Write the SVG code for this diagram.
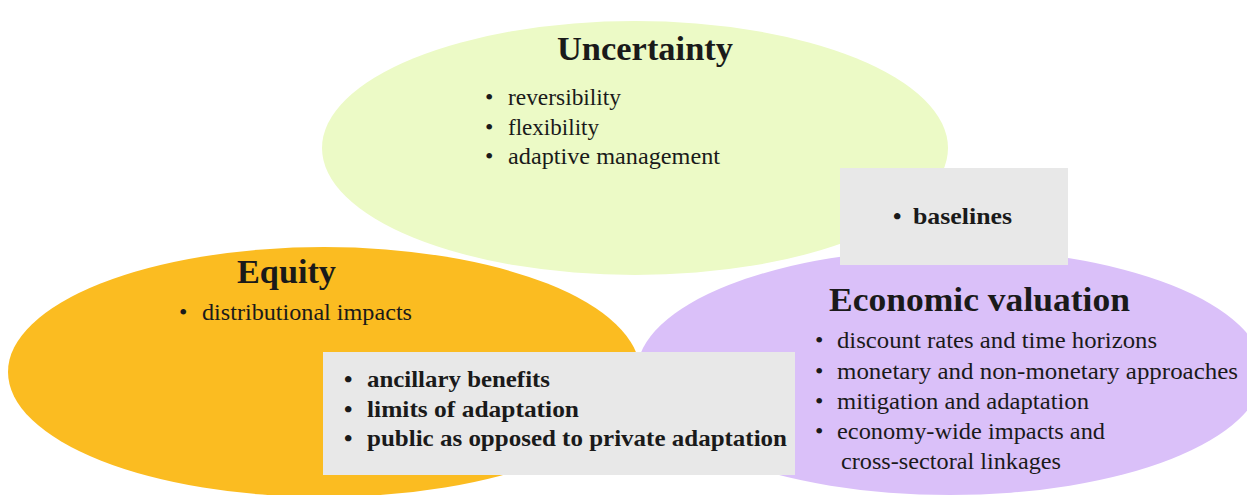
<svg xmlns="http://www.w3.org/2000/svg" width="1247" height="495" viewBox="0 0 1247 495">
<style>
.t{font-family:"Liberation Serif","Times New Roman",serif;fill:#1a1a1a}
.h{font-size:34px;font-weight:bold}
.b{font-size:24px}
.bb{font-size:24px;font-weight:bold}
</style>
<rect width="1247" height="495" fill="#ffffff"/>
<g id="uncertainty">
<ellipse cx="635" cy="148" rx="313" ry="127" fill="#ECFAC6"/>
<text class="t h" x="557" y="60" textLength="176" lengthAdjust="spacingAndGlyphs">Uncertainty</text>
<text class="t b" x="485" y="105">•</text><text class="t b" x="508" y="105" textLength="113" lengthAdjust="spacingAndGlyphs">reversibility</text>
<text class="t b" x="485" y="135">•</text><text class="t b" x="508" y="135" textLength="91" lengthAdjust="spacingAndGlyphs">flexibility</text>
<text class="t b" x="485" y="164">•</text><text class="t b" x="508" y="164" textLength="212" lengthAdjust="spacingAndGlyphs">adaptive management</text>
</g>
<g id="equity">
<ellipse cx="324" cy="372" rx="316" ry="125" fill="#FBBC21"/>
<text class="t h" x="237" y="283" textLength="99" lengthAdjust="spacingAndGlyphs">Equity</text>
<text class="t b" x="179" y="320">•</text><text class="t b" x="202" y="320" textLength="210" lengthAdjust="spacingAndGlyphs">distributional impacts</text>
</g>
<g id="economic">
<ellipse cx="950" cy="372" rx="313" ry="123" fill="#DAC0F9"/>
<text class="t h" x="829" y="311" textLength="301" lengthAdjust="spacingAndGlyphs">Economic valuation</text>
<text class="t b" x="815" y="348">•</text><text class="t b" x="837" y="348" textLength="320" lengthAdjust="spacingAndGlyphs">discount rates and time horizons</text>
<text class="t b" x="815" y="379">•</text><text class="t b" x="837" y="379" textLength="401" lengthAdjust="spacingAndGlyphs">monetary and non-monetary approaches</text>
<text class="t b" x="815" y="409">•</text><text class="t b" x="837" y="409" textLength="252" lengthAdjust="spacingAndGlyphs">mitigation and adaptation</text>
<text class="t b" x="815" y="439">•</text><text class="t b" x="837" y="439" textLength="268" lengthAdjust="spacingAndGlyphs">economy-wide impacts and</text>
<text class="t b" x="841" y="469" textLength="220" lengthAdjust="spacingAndGlyphs">cross-sectoral linkages</text>
</g>
<g id="baselines">
<rect x="840" y="168" width="228" height="97" fill="#E8E8E8"/>
<text class="t bb" x="893" y="224">•</text><text class="t bb" x="913" y="224" textLength="99" lengthAdjust="spacingAndGlyphs">baselines</text>
</g>
<g id="shared">
<rect x="323" y="352" width="472" height="123" fill="#E8E8E8"/>
<text class="t bb" x="344" y="387">•</text><text class="t bb" x="367" y="387" textLength="183" lengthAdjust="spacingAndGlyphs">ancillary benefits</text>
<text class="t bb" x="344" y="417">•</text><text class="t bb" x="367" y="417" textLength="212" lengthAdjust="spacingAndGlyphs">limits of adaptation</text>
<text class="t bb" x="344" y="446">•</text><text class="t bb" x="367" y="446" textLength="420" lengthAdjust="spacingAndGlyphs">public as opposed to private adaptation</text>
</g>
<g id="connectors"></g>
</svg>
